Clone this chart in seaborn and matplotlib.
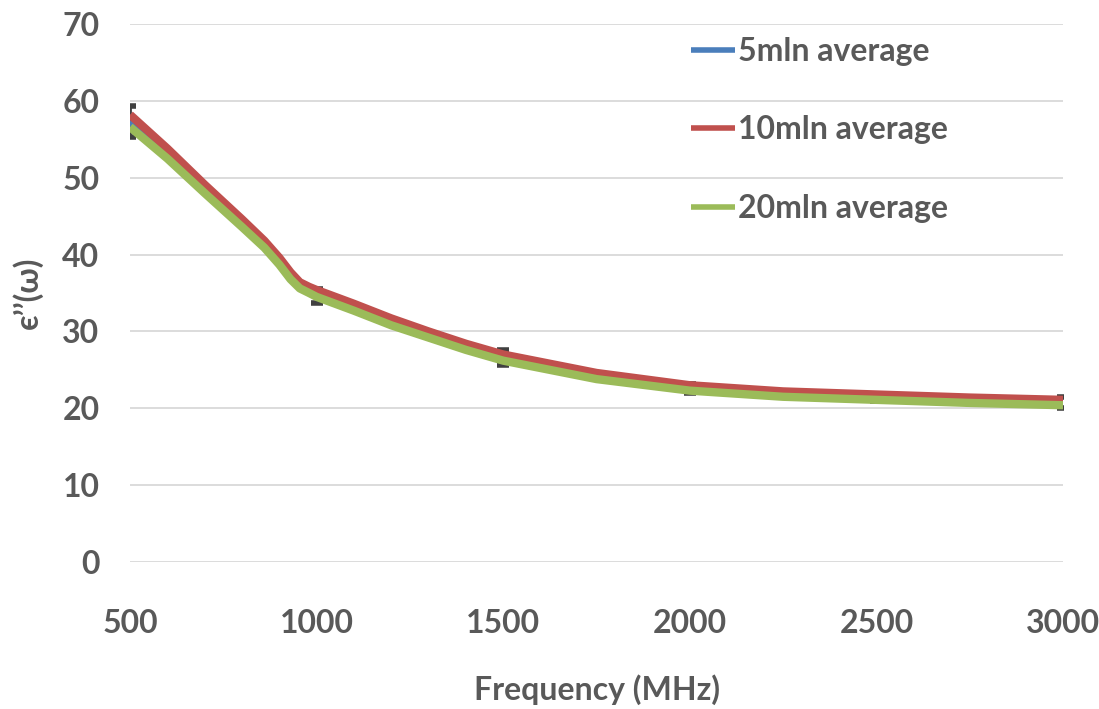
import matplotlib
matplotlib.use("Agg")
import matplotlib.pyplot as plt
import seaborn as sns
import pandas as pd
import numpy as np

# ---- data ----
freq = [500, 600, 700, 800, 860, 900, 930, 955, 980, 1000, 1050, 1100, 1200, 1300, 1400, 1500,
        1750, 2000, 2250, 2500, 2750, 3000]
avg_5mln = [57.4, 53.2, 48.6, 44.1, 41.4, 39.2, 37.3, 36.0, 35.4, 35.0, 34.1, 33.2, 31.3, 29.6, 28.0, 26.6,
            24.2, 22.7, 21.9, 21.5, 21.1, 20.8]
avg_10mln = [58.2, 53.8, 49.1, 44.6, 41.8, 39.6, 37.7, 36.4, 35.8, 35.4, 34.5, 33.6, 31.7, 30.0, 28.4, 27.0,
             24.6, 23.0, 22.2, 21.8, 21.4, 21.1]
avg_20mln = [56.6, 52.5, 48.0, 43.6, 40.9, 38.7, 36.8, 35.6, 35.0, 34.5, 33.6, 32.7, 30.8, 29.2, 27.6, 26.2,
             23.8, 22.3, 21.5, 21.1, 20.7, 20.4]
series_names = ["5mln average", "10mln average", "20mln average"]

err_freq = [500, 1000, 1500, 2000, 2500, 3000]
err_center = [57.3, 34.6, 26.6, 22.6, 21.4, 20.8]
err_size = [2.0, 0.9, 1.0, 0.6, 0.5, 0.7]

x_ticks = [500, 1000, 1500, 2000, 2500, 3000]
y_ticks = [0, 10, 20, 30, 40, 50, 60, 70]

colors = ["#4a7ebb", "#c0504d", "#9bbb59"]
text_color = "#595959"

# ---- plot ----
sns.set_theme(style="white")
plt.rcParams["font.family"] = ["Lato", "DejaVu Sans"]

df = pd.concat([
    pd.DataFrame({"freq": freq, "val": v, "series": n})
    for v, n in zip([avg_5mln, avg_10mln, avg_20mln], series_names)
])

fig = plt.figure(figsize=(10.99, 7.09), dpi=100)
ax = fig.add_axes([0.1183, 0.2073, 0.849, 0.7588])

ax.errorbar(err_freq, err_center, yerr=err_size, fmt="none", ecolor="#404040",
            elinewidth=2, capsize=4, capthick=4, zorder=1)

sns.lineplot(data=df, x="freq", y="val", hue="series", palette=colors,
             linewidth=6, ax=ax, sort=True, zorder=3, legend=True)
for ln in ax.get_lines():
    ln.set_solid_joinstyle("round")
    ln.set_solid_capstyle("butt")

ax.set_xlim(500, 3000)
ax.set_ylim(0, 70)
ax.set_xticks(x_ticks)
ax.set_yticks(y_ticks)
ax.yaxis.grid(True, color="#d9d9d9", linewidth=1.3)
ax.xaxis.grid(False)
for s in ax.spines.values():
    s.set_visible(False)
ax.tick_params(axis="both", length=0, labelsize=23, labelcolor=text_color)
for lab in ax.get_xticklabels() + ax.get_yticklabels():
    lab.set_fontweight("bold")
ax.tick_params(axis="x", pad=34)
ax.tick_params(axis="y", pad=22)

ax.set_xlabel("Frequency (MHz)", fontsize=23, fontweight="bold", color=text_color,
              labelpad=26)
ax.set_ylabel("є’’(ω)", fontsize=23, fontweight="bold", color=text_color, labelpad=14)

handles, labels = ax.get_legend_handles_labels()
leg = ax.legend(handles, labels, loc="upper left", bbox_to_anchor=(0.588, 1.0),
                frameon=False, fontsize=23, labelspacing=1.55, handlelength=1.35,
                handletextpad=0.1, borderaxespad=0.0)
for t in leg.get_texts():
    t.set_color(text_color)
    t.set_fontweight("bold")
for h in leg.get_lines():
    h.set_linewidth(4)

fig.savefig("out.png", dpi=100)
